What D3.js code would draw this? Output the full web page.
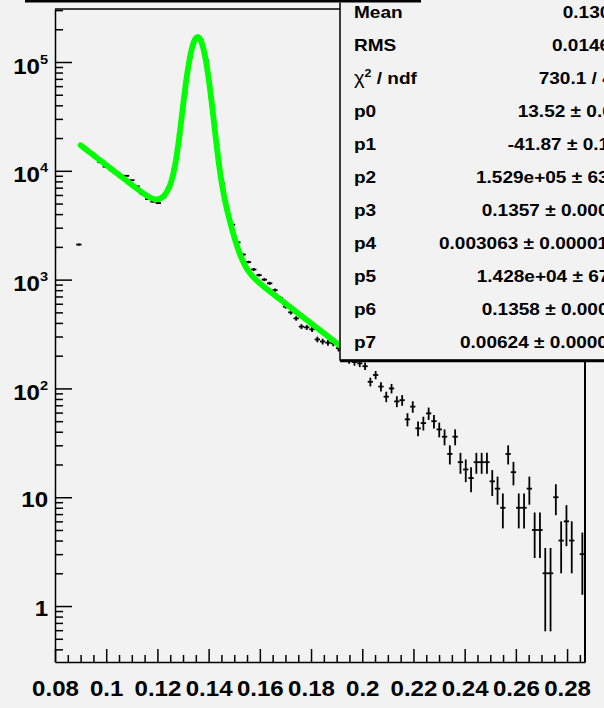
<!DOCTYPE html>
<html>
<head>
<meta charset="utf-8">
<script src="https://cdn.jsdelivr.net/npm/d3@7"></script>
<style>
  html, body { margin: 0; padding: 0; background: #f2f2f2; }
  svg { display: block; }
</style>
</head>
<body>
<svg id="c" width="604" height="708"></svg>
<script>
// Histogram binning
const xMin = 0.08, xMax = 0.287, nBins = 100;

// Bin contents (counts per bin)
const binCounts = [
  0, 0, 0, 0, 2100, 16000, 14600, 13400, 12000, 10900,
  10300, 9500, 8800, 9000, 8200, 7200, 6100, 5500, 5200, 5050,
  5700, 7000, 10500, 21500, 52000, 110000, 162000, 160000, 104000, 47000,
  17500, 7700, 4400, 3200, 2200, 1700, 1450, 1240, 1100, 1000,
  925, 800, 680, 565, 500, 440, 370, 364, 349, 282,
  270, 263, 260, 234, 190, 182, 175, 170, 160, 115,
  133, 104, 84, 100, 76, 78, 52, 68, 43, 48,
  59, 50, 42, 36, 25, 36, 21, 18, 15, 21,
  21, 21, 14, 12, 8, 25, 17, 8, 8, 12,
  5, 5, 2, 2, 10, 4, 6, 4, 0, 3
];

// Fit: expo(0) + gaus(2) + gaus(5)
const fitPars = [13.52, -41.87, 1.529e5, 0.1357, 0.003063, 1.428e4, 0.1358, 0.00624];
const fitRange = [0.09, 0.195];

// Axis ticks and labels
const xMajor = [0.08, 0.10, 0.12, 0.14, 0.16, 0.18, 0.20, 0.22, 0.24, 0.26, 0.28];
const xTickLabels = ["0.08", "0.1", "0.12", "0.14", "0.16", "0.18", "0.2", "0.22", "0.24", "0.26", "0.28"];
const yMajor = [1, 10, 100, 1000, 10000, 100000];
const yLabelBase = ["1", "10", "10", "10", "10", "10"];
const yLabelExp = ["", "", "2", "3", "4", "5"];

// Statistics box
const statNames = ["Mean", "RMS", "chi2", "p0", "p1", "p2", "p3", "p4", "p5", "p6", "p7"];
const statValues = [
  "0.1306", "0.01464", "730.1 / 47",
  "13.52 \u00b1 0.02", "-41.87 \u00b1 0.15", "1.529e+05 \u00b1 632",
  "0.1357 \u00b1 0.0000", "0.003063 \u00b1 0.000015", "1.428e+04 \u00b1 67",
  "0.1358 \u00b1 0.0000", "0.00624 \u00b1 0.00006"
];
const statValueX = [562.7, 552, 538.7, 517.7, 507.7, 476, 481.7, 439, 476.7, 481.7, 460];

// Layout
const W = 604, H = 708;
const L = 55, R = 585, T = 9, B = 662;
const SX = 1.12;   // horizontal text stretch
const FONT = "'Liberation Sans', Arial, Helvetica, sans-serif";

const svg = d3.select("#c");
svg.append("rect").attr("width", W).attr("height", H).attr("fill", "#f2f2f2");

const x = d3.scaleLinear().domain([xMin, xMax]).range([L, R]);
const y = d3.scaleLog().domain([0.306, 3.07e5]).range([B, T]);

svg.append("clipPath").attr("id", "frameClip")
  .append("rect").attr("x", L).attr("y", T).attr("width", R - L).attr("height", B - T);

// Data points with error bars
const bw = (xMax - xMin) / nBins;
const bins = binCounts.map((v, i) => ({ lo: xMin + i * bw, hi: xMin + (i + 1) * bw, v }))
  .filter(d => d.v > 0);

const gData = svg.append("g").attr("clip-path", "url(#frameClip)")
  .attr("stroke", "#000").attr("stroke-width", 1.8);

gData.selectAll("line.h").data(bins).join("line").attr("class", "h")
  .attr("x1", d => x(d.lo)).attr("x2", d => x(d.hi))
  .attr("y1", d => y(d.v)).attr("y2", d => y(d.v));

gData.selectAll("line.v").data(bins).join("line").attr("class", "v")
  .attr("x1", d => x((d.lo + d.hi) / 2)).attr("x2", d => x((d.lo + d.hi) / 2))
  .attr("y1", d => { const lo = d.v - Math.sqrt(d.v); return lo > 0 ? y(lo) : B; })
  .attr("y2", d => y(d.v + Math.sqrt(d.v)));

// Fit curve
function fitFn(t) {
  const [p0, p1, p2, p3, p4, p5, p6, p7] = fitPars;
  return Math.exp(p0 + p1 * t)
    + p2 * Math.exp(-0.5 * Math.pow((t - p3) / p4, 2))
    + p5 * Math.exp(-0.5 * Math.pow((t - p6) / p7, 2));
}
const nFit = 400;
const fitPts = d3.range(nFit + 1).map(k => {
  const t = fitRange[0] + k * (fitRange[1] - fitRange[0]) / nFit;
  return [t, fitFn(t)];
});
svg.append("path").attr("clip-path", "url(#frameClip)")
  .attr("d", d3.line().x(d => x(d[0])).y(d => y(d[1]))(fitPts))
  .attr("fill", "none").attr("stroke", "#00ff00").attr("stroke-width", 5.8)
  .attr("stroke-linejoin", "round").attr("stroke-linecap", "round");

// Frame (top and right edges)
svg.append("line").attr("x1", L).attr("x2", R).attr("y1", T).attr("y2", T)
  .attr("stroke", "#000").attr("stroke-width", 1.5);
svg.append("line").attr("x1", R).attr("x2", R).attr("y1", T).attr("y2", B)
  .attr("stroke", "#000").attr("stroke-width", 2);

// X axis
const xMinor = d3.range(0, 42).map(k => +(0.08 + k * 0.005).toFixed(3))
  .filter(v => v <= xMax && !xMajor.some(m => Math.abs(m - v) < 1e-9));

const gxMinor = svg.append("g").attr("transform", `translate(0,${B})`)
  .call(d3.axisBottom(x).tickValues(xMinor).tickSize(-7).tickSizeOuter(0).tickFormat(""));
gxMinor.select(".domain").remove();

const gx = svg.append("g").attr("transform", `translate(0,${B})`)
  .call(d3.axisBottom(x).tickValues(xMajor).tickSize(-13).tickSizeOuter(0)
    .tickFormat((d, i) => xTickLabels[i]));

svg.selectAll(".tick line, .domain").attr("stroke", "#000").attr("stroke-width", 1.5);

gx.selectAll("text")
  .attr("y", 34).attr("dy", 0)
  .attr("transform", `scale(${SX},1)`)
  .attr("font-family", FONT).attr("font-size", 21.5).attr("font-weight", "bold")
  .attr("fill", "#000");

// Y axis
const yMinor = [];
[0.1, 1, 10, 100, 1000, 10000, 100000].forEach(dec => {
  for (let m = 2; m <= 9; m++) {
    const v = dec * m;
    if (v >= y.domain()[0] && v <= y.domain()[1]) yMinor.push(v);
  }
});

const gyMinor = svg.append("g").attr("transform", `translate(${L},0)`)
  .call(d3.axisLeft(y).tickValues(yMinor).tickSize(-8).tickSizeOuter(0).tickFormat(""));
gyMinor.select(".domain").remove();

const gy = svg.append("g").attr("transform", `translate(${L},0)`)
  .call(d3.axisLeft(y).tickValues(yMajor).tickSize(-17).tickSizeOuter(0).tickFormat(""));

svg.selectAll(".tick line, .domain").attr("stroke", "#000").attr("stroke-width", 1.5);

gy.selectAll(".tick").each(function (d, i) {
  const t = d3.select(this).select("text");
  t.text(null)
    .attr("x", -7 / SX).attr("y", yLabelExp[i] ? 11 : 9).attr("dy", 0)
    .attr("text-anchor", "end")
    .attr("transform", `scale(${SX},1)`)
    .attr("font-family", FONT).attr("font-weight", "bold").attr("fill", "#000");
  t.append("tspan").attr("font-size", 21.5).text(yLabelBase[i]);
  if (yLabelExp[i]) {
    t.append("tspan").attr("font-size", 13).attr("dy", -10).text(yLabelExp[i]);
  }
});

// Statistics box
const boxX = 340, boxBottom = 360;
svg.append("rect").attr("x", boxX).attr("y", -20).attr("width", 400).attr("height", boxBottom + 20)
  .attr("fill", "#f2f2f2").attr("stroke", "#000").attr("stroke-width", 1.5);
svg.append("line").attr("x1", boxX).attr("x2", W + 10).attr("y1", boxBottom + 1).attr("y2", boxBottom + 1)
  .attr("stroke", "#000").attr("stroke-width", 2.5);

const gStats = svg.append("g").attr("font-family", FONT).attr("font-weight", "bold")
  .attr("font-size", 17).attr("fill", "#000");

statNames.forEach((name, k) => {
  const base = 17.5 + 33 * k;
  const t = gStats.append("text").attr("transform", `translate(354,${base}) scale(${SX},1)`);
  if (name === "chi2") {
    t.append("tspan").attr("font-weight", "normal").attr("font-size", 18).text("\u03c7");
    t.append("tspan").attr("font-size", 11).attr("dy", -7).text("2");
    t.append("tspan").attr("dy", 7).text(" / ndf");
  } else {
    t.text(name);
  }
  gStats.append("text").attr("transform", `translate(${statValueX[k]},${base}) scale(${SX},1)`)
    .text(statValues[k]);
});

// Title box edge at the top
svg.append("rect").attr("x", 25).attr("y", -10).attr("width", 396).attr("height", 12.5)
  .attr("fill", "#f2f2f2").attr("stroke", "none");
svg.append("rect").attr("x", 25).attr("y", 0).attr("width", 396).attr("height", 2.5)
  .attr("fill", "#000");
</script>
</body>
</html>
